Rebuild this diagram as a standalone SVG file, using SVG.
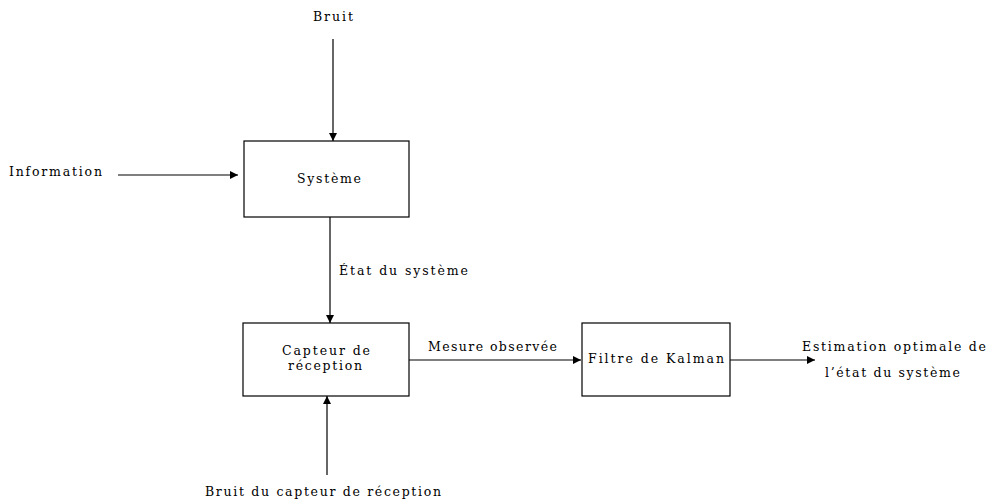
<svg xmlns="http://www.w3.org/2000/svg" width="989" height="503" viewBox="0 0 989 503">
<style>
text{font-family:"DejaVu Serif","Liberation Serif",serif;font-size:12.5px;fill:#000}
.box{fill:#fff;stroke:#000;stroke-width:1.2}
.c line{stroke:#000;stroke-width:1.2}
</style>
<defs>
<marker id="ah" viewBox="0 0 10 10" refX="10" refY="5" markerWidth="10" markerHeight="8" markerUnits="userSpaceOnUse" orient="auto">
<path d="M0,0 L10,5 L0,10 z" fill="#000"/>
</marker>
</defs>
<rect width="989" height="503" fill="#fff"/>
<g id="systeme">
<rect class="box" x="244" y="141" width="165" height="76"/>
<text x="329" y="183" text-anchor="middle" textLength="64">Système</text>
</g>
<g id="capteur">
<rect class="box" x="243" y="323" width="166" height="73"/>
<text x="326" y="355" text-anchor="middle" textLength="88">Capteur de</text>
<text x="325" y="370" text-anchor="middle" textLength="74">réception</text>
</g>
<g id="filtre">
<rect class="box" x="582" y="323" width="148" height="73"/>
<text x="656" y="363" text-anchor="middle" textLength="136">Filtre de Kalman</text>
</g>
<g id="labels">
<text x="333" y="21" text-anchor="middle" textLength="40">Bruit</text>
<text x="9" y="176" textLength="93">Information</text>
<text x="339" y="275" textLength="129">État du système</text>
<text x="428" y="351" textLength="129">Mesure observée</text>
<text x="802" y="351" textLength="184">Estimation optimale de</text>
<text x="825" y="377" textLength="135">l’état du système</text>
<text x="205" y="496" textLength="236">Bruit du capteur de réception</text>
</g>
<g id="connectors" class="c">
<line x1="333" y1="39" x2="333" y2="141" marker-end="url(#ah)"/>
<line x1="118" y1="175" x2="238" y2="175" marker-end="url(#ah)"/>
<line x1="330" y1="217" x2="330" y2="323" marker-end="url(#ah)"/>
<line x1="409" y1="360" x2="581" y2="360" marker-end="url(#ah)"/>
<line x1="730" y1="360" x2="815" y2="360" marker-end="url(#ah)"/>
<line x1="327" y1="475" x2="327" y2="396" marker-end="url(#ah)"/>
</g>
</svg>
